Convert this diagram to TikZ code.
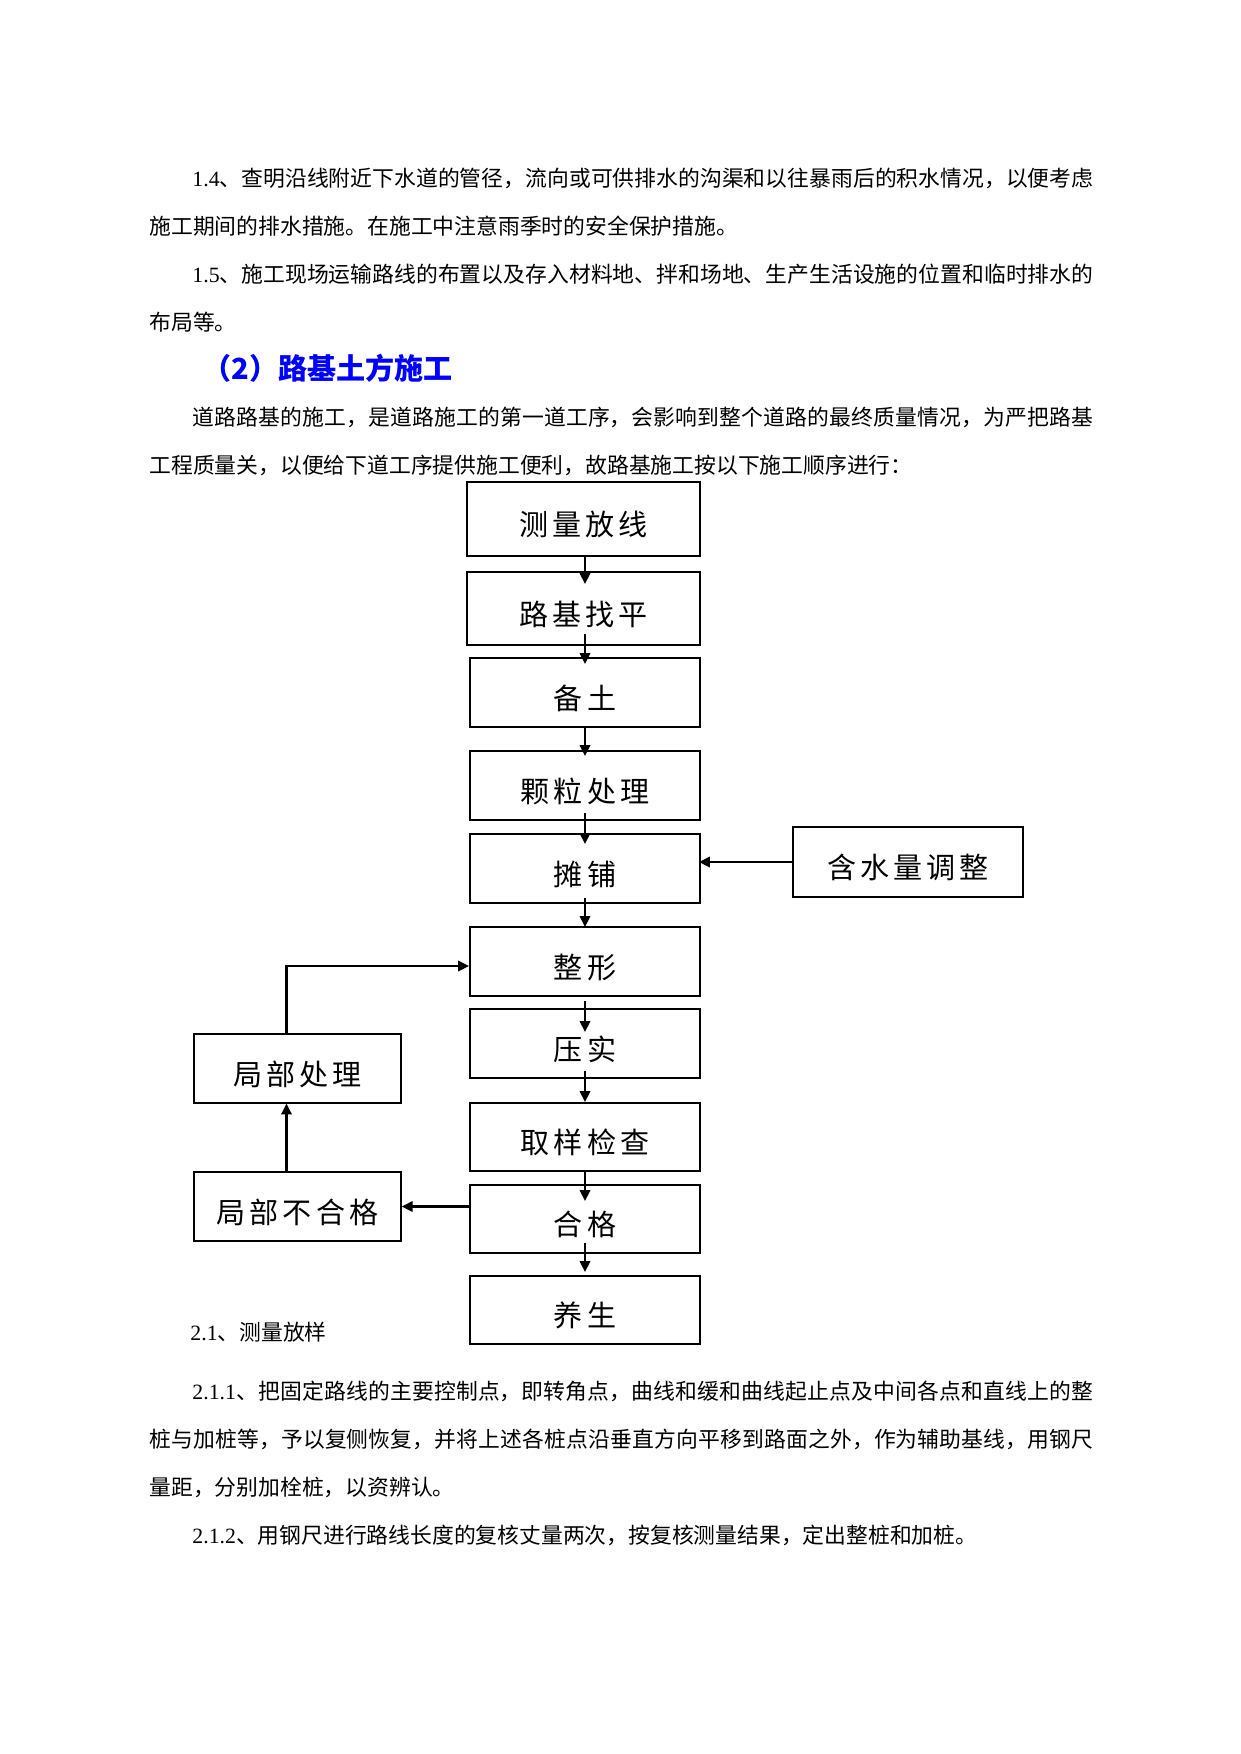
\documentclass[tikz,border=0pt]{standalone}
\usepackage{fontspec}
\setmainfont{Noto Sans CJK SC}
\newfontfamily\latin{Liberation Serif}
\newfontfamily\boxfont[LetterSpace=14]{Noto Sans CJK SC}
\usetikzlibrary{arrows.meta,calc,positioning}
\XeTeXlinebreaklocale "zh"
\XeTeXlinebreakskip=0pt plus 3pt
\newdimen\pxu \pxu=0.16925mm
\newcommand{\fline}[2]{\parbox[b]{#1\pxu}{\noindent\parfillskip=0pt #2}}
\definecolor{headblue}{RGB}{0,0,255}

\begin{document}
\begin{tikzpicture}[x=0.16925mm,y=-0.16925mm,
  txt/.style={inner sep=0pt,anchor=base west,font=\fontsize{10.5pt}{12pt}\selectfont},
  box/.style={draw,line width=1pt,minimum width=230\pxu,minimum height=69\pxu,inner sep=0pt,
    font=\boxfont\fontsize{14pt}{16pt}\selectfont,text height=1.63em,text depth=0pt},
  sidebox/.style={box,line width=0.55pt},
  arr/.style={line width=1pt,-{Triangle[length=5.2pt,width=5pt]}}]
  \fill[white] (0,0) rectangle (1241,1754);
  \useasboundingbox (0,0) rectangle (1241,1754);

  % text above the chart
  \node[txt] (p14a) at (192,186) {\fline{901}{{\latin 1.4}、查明沿线附近下水道的管径，流向或可供排水的沟渠和以往暴雨后的积水情况，以便考虑}};
  \node[txt] (p14b) at (149,234) {施工期间的排水措施。在施工中注意雨季时的安全保护措施。};
  \node[txt] (p15a) at (192,282) {\fline{901}{{\latin 1.5}、施工现场运输路线的布置以及存入材料地、拌和场地、生产生活设施的位置和临时排水的}};
  \node[txt] (p15b) at (149,330) {布局等。};
  \node[txt,font=\fontsize{14pt}{16pt}\selectfont\bfseries,text=headblue] (head) at (202,379) {（2）路基土方施工};
  \node[txt] (introa) at (192,425) {\fline{901}{道路路基的施工，是道路施工的第一道工序，会影响到整个道路的最终质量情况，为严把路基}};
  \node[txt] (introb) at (149,473) {工程质量关，以便给下道工序提供施工便利，故路基施工按以下施工顺序进行：};

  % chart
  \node[box,minimum width=233\pxu,minimum height=74\pxu] (survey) at (583.5,519) {测量放线};
  \node[box,minimum width=233\pxu,minimum height=73\pxu] (level) at (583.5,608.5) {路基找平};
  \node[box] (soil) at (585,692.5) {备土};
  \node[box] (grain) at (585,785.5) {颗粒处理};
  \node[box] (spread) at (585,868.5) {摊铺};
  \node[box] (shape) at (585,961.5) {整形};
  \node[box] (compact) at (585,1043.5) {压实};
  \node[box,minimum height=68\pxu] (sample) at (585,1137) {取样检查};
  \node[box,minimum height=68\pxu] (pass) at (585,1219) {合格};
  \node[box,minimum height=68\pxu] (cure) at (585,1310) {养生};
  \node[sidebox,minimum height=70\pxu] (water) at (908,862) {含水量调整};
  \node[sidebox,minimum width=207\pxu,line width=0.6pt] (fix) at (297.5,1068.5) {局部处理};
  \node[sidebox,minimum width=207\pxu,line width=0.75pt] (fail) at (297.5,1206.5) {局部不合格};

  \draw[arr,shorten >=-13\pxu] (survey.south -| soil.north) -- (level.north -| soil.north);
  \draw[arr,shorten <=-12\pxu,shorten >=-7\pxu] (level.south -| soil.north) -- (soil.north);
  \draw[arr,shorten >=-6\pxu] (soil.south) -- (grain.north);
  \draw[arr,shorten <=-8\pxu,shorten >=-11\pxu] (grain.south) -- (spread.north);
  \draw[arr,shorten <=-6\pxu,shorten >=-1\pxu] (spread.south) -- (shape.north);
  \draw[arr,shorten <=4\pxu,shorten >=-24\pxu] (shape.south) -- (compact.north);
  \draw[arr,shorten <=-8\pxu] (compact.south) -- (sample.north);
  \draw[arr,shorten >=-17\pxu] (sample.south) -- (pass.north);
  \draw[arr,shorten <=-11\pxu,shorten >=3\pxu] (pass.south) -- (cure.north);
  \draw[arr,shorten >=-2\pxu] (water.west) -- (water.west -| spread.east);
  \draw[arr] (fail.east -| pass.west) -- (fail.east);
  \draw[arr] ($(fail.north)+(-11,0)$) -- ($(fix.south)+(-11,0)$);
  \draw[arr] ($(fix.north)+(-11,0)$) |- ($(shape.west)+(0,4.5)$);

  % text below the chart
  \node[txt] (s21) at (190,1340) {{\latin 2.1}、测量放样};
  \node[txt] (s211a) at (192,1399) {\fline{901}{{\latin 2.1.1}、把固定路线的主要控制点，即转角点，曲线和缓和曲线起止点及中间各点和直线上的整}};
  \node[txt] (s211b) at (149,1447) {\fline{944}{桩与加桩等，予以复侧恢复，并将上述各桩点沿垂直方向平移到路面之外，作为辅助基线，用钢尺}};
  \node[txt] (s211c) at (149,1495) {量距，分别加栓桩，以资辨认。};
  \node[txt] (s212) at (192,1543) {{\latin 2.1.2}、用钢尺进行路线长度的复核丈量两次，按复核测量结果，定出整桩和加桩。};
\end{tikzpicture}
\end{document}
